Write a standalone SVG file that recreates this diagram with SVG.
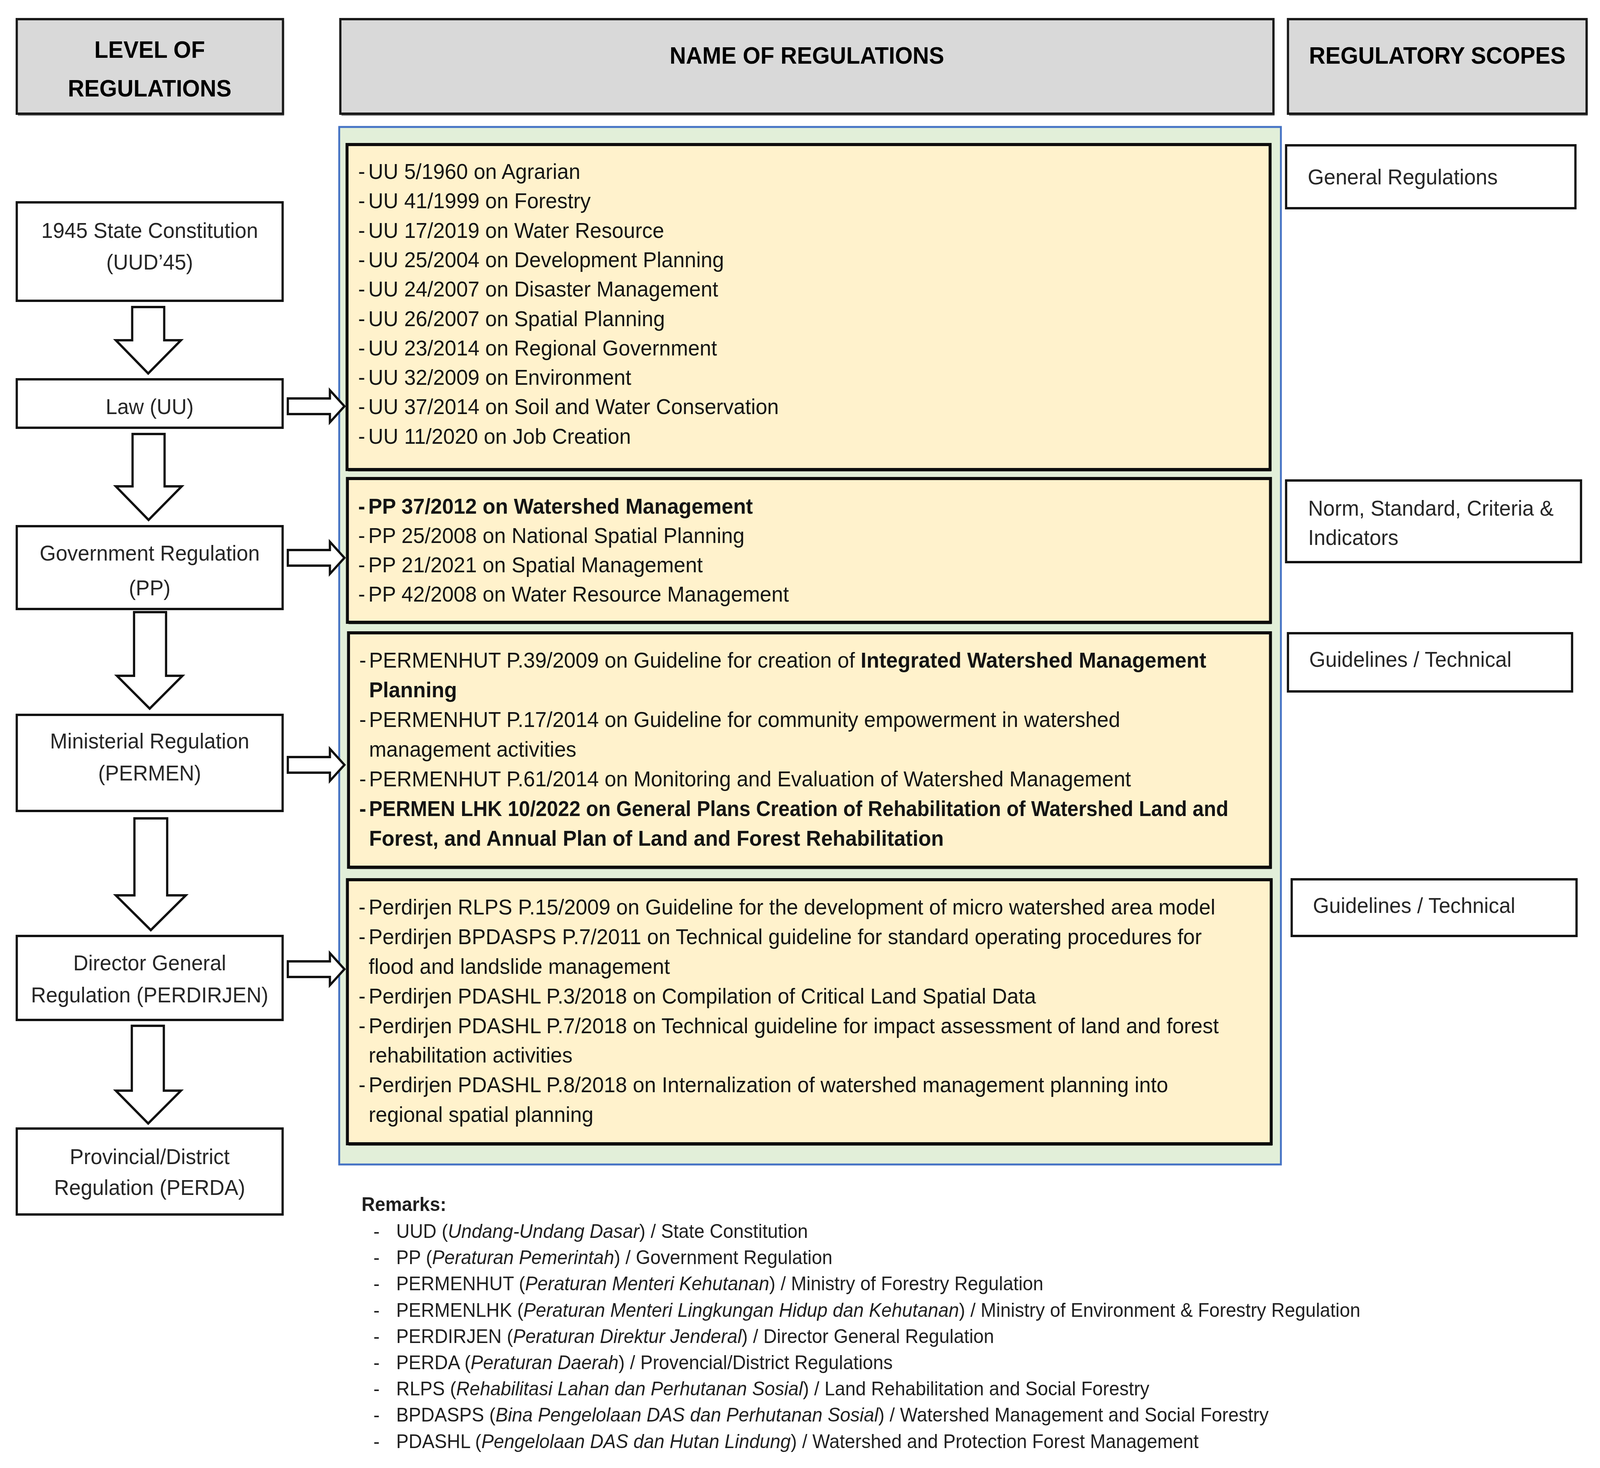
<svg xmlns="http://www.w3.org/2000/svg" width="4297" height="3758" viewBox="0 0 4297 3758" preserveAspectRatio="none">
<style>
  svg { width: 100vw; height: 100vh; }
  text { font-family: "Liberation Sans", Arial, sans-serif; }
  .hdr { font-size: 61px; font-weight: bold; fill: #000; text-anchor: middle; }
  .hbox { fill: #d9d9d9; stroke: #1a1a1a; stroke-width: 6; }
  .shadow { fill: #3a3a3a; opacity: 0.75; }
  .lbox { fill: #ffffff; stroke: #111; stroke-width: 6; }
  .lvl { font-size: 56px; fill: #262626; text-anchor: middle; }
  .sbox { fill: #ffffff; stroke: #111; stroke-width: 6; }
  .scope { font-size: 56px; fill: #262626; }
  .ybox { fill: #fff2cc; stroke: #0d0d0d; stroke-width: 8; }
  .item { font-size: 56px; fill: #141414; }
  .b { font-weight: bold; }
  .arrow { fill: #ffffff; stroke: #111; stroke-width: 6; stroke-linejoin: miter; }
  .rm { font-size: 50px; fill: #1f1f1f; }
  .it { font-style: italic; }
</style>

<!-- Headers -->
<g id="hdr-level">
  <rect class="shadow" x="48" y="54" width="715" height="242"/>
  <rect class="hbox" x="45" y="49" width="715" height="242"/>
  <text class="hdr" x="402" y="148">LEVEL OF</text>
  <text class="hdr" x="402" y="247">REGULATIONS</text>
</g>
<g id="hdr-name">
  <rect class="shadow" x="917" y="54" width="2506" height="242"/>
  <rect class="hbox" x="914" y="49" width="2506" height="242"/>
  <text class="hdr" x="2167" y="163">NAME OF REGULATIONS</text>
</g>
<g id="hdr-scope">
  <rect class="shadow" x="3462" y="54" width="802" height="242"/>
  <rect class="hbox" x="3459" y="49" width="802" height="242"/>
  <text class="hdr" x="3860" y="163">REGULATORY SCOPES</text>
</g>

<!-- Green container -->
<g id="regulations-panel">
  <rect x="911" y="325" width="2529" height="2656" fill="#e2efd9" stroke="#4472c4" stroke-width="5"/>
</g>

<!-- Level boxes -->
<g id="lvl-uud">
  <rect class="lbox" x="45" y="518" width="714" height="252"/>
  <text class="lvl" x="402" y="609">1945 State Constitution</text>
  <text class="lvl" x="402" y="690">(UUD’45)</text>
</g>
<g id="lvl-uu">
  <rect class="lbox" x="45" y="971" width="714" height="124"/>
  <text class="lvl" x="402" y="1060">Law (UU)</text>
</g>
<g id="lvl-pp">
  <rect class="lbox" x="45" y="1347" width="714" height="212"/>
  <text class="lvl" x="402" y="1435">Government Regulation</text>
  <text class="lvl" x="402" y="1524">(PP)</text>
</g>
<g id="lvl-permen">
  <rect class="lbox" x="45" y="1830" width="714" height="246"/>
  <text class="lvl" x="402" y="1916">Ministerial Regulation</text>
  <text class="lvl" x="402" y="1998">(PERMEN)</text>
</g>
<g id="lvl-perdirjen">
  <rect class="lbox" x="45" y="2396" width="714" height="215"/>
  <text class="lvl" x="402" y="2484">Director General</text>
  <text class="lvl" x="402" y="2566">Regulation (PERDIRJEN)</text>
</g>
<g id="lvl-perda">
  <rect class="lbox" x="45" y="2889" width="714" height="220"/>
  <text class="lvl" x="402" y="2980">Provincial/District</text>
  <text class="lvl" x="402" y="3059">Regulation (PERDA)</text>
</g>

<!-- Regulation lists -->
<g id="list-uu">
  <rect class="shadow" x="935" y="375" width="2479" height="832"/>
  <rect class="ybox" x="932" y="370" width="2479" height="832"/>
  <text class="item" y="458"><tspan x="962">-</tspan><tspan x="989">UU 5/1960 on Agrarian</tspan></text>
  <text class="item" y="533"><tspan x="962">-</tspan><tspan x="989">UU 41/1999 on Forestry</tspan></text>
  <text class="item" y="609"><tspan x="962">-</tspan><tspan x="989">UU 17/2019 on Water Resource</tspan></text>
  <text class="item" y="684"><tspan x="962">-</tspan><tspan x="989">UU 25/2004 on Development Planning</tspan></text>
  <text class="item" y="759"><tspan x="962">-</tspan><tspan x="989">UU 24/2007 on Disaster Management</tspan></text>
  <text class="item" y="835"><tspan x="962">-</tspan><tspan x="989">UU 26/2007 on Spatial Planning</tspan></text>
  <text class="item" y="910"><tspan x="962">-</tspan><tspan x="989">UU 23/2014 on Regional Government</tspan></text>
  <text class="item" y="985"><tspan x="962">-</tspan><tspan x="989">UU 32/2009 on Environment</tspan></text>
  <text class="item" y="1060"><tspan x="962">-</tspan><tspan x="989">UU 37/2014 on Soil and Water Conservation</tspan></text>
  <text class="item" y="1136"><tspan x="962">-</tspan><tspan x="989">UU 11/2020 on Job Creation</tspan></text>
</g>
<g id="list-pp">
  <rect class="shadow" x="936" y="1230" width="2479" height="368"/>
  <rect class="ybox" x="933" y="1225" width="2479" height="368"/>
  <text class="item b" y="1315"><tspan x="962">-</tspan><tspan x="989">PP 37/2012 on Watershed Management</tspan></text>
  <text class="item" y="1390"><tspan x="962">-</tspan><tspan x="989">PP 25/2008 on National Spatial Planning</tspan></text>
  <text class="item" y="1465"><tspan x="962">-</tspan><tspan x="989">PP 21/2021 on Spatial Management</tspan></text>
  <text class="item" y="1540"><tspan x="962">-</tspan><tspan x="989">PP 42/2008 on Water Resource Management</tspan></text>
</g>
<g id="list-permen">
  <rect class="shadow" x="939" y="1625" width="2476" height="600"/>
  <rect class="ybox" x="936" y="1620" width="2476" height="600"/>
  <text class="item" y="1709"><tspan x="965">-</tspan><tspan x="991">PERMENHUT P.39/2009 on Guideline for creation of </tspan><tspan class="b">Integrated Watershed Management</tspan></text>
  <text class="item b" x="991" y="1785">Planning</text>
  <text class="item" y="1861"><tspan x="965">-</tspan><tspan x="991">PERMENHUT P.17/2014 on Guideline for community empowerment in watershed</tspan></text>
  <text class="item" x="991" y="1937">management activities</text>
  <text class="item" y="2013"><tspan x="965">-</tspan><tspan x="991">PERMENHUT P.61/2014 on Monitoring and Evaluation of Watershed Management</tspan></text>
  <text class="item b" y="2089"><tspan x="965">-</tspan><tspan x="991" textLength="2308" lengthAdjust="spacingAndGlyphs">PERMEN LHK 10/2022 on General Plans Creation of Rehabilitation of Watershed Land and</tspan></text>
  <text class="item b" x="991" y="2165">Forest, and Annual Plan of Land and Forest Rehabilitation</text>
</g>
<g id="list-perdirjen">
  <rect class="shadow" x="936" y="2257" width="2481" height="676"/>
  <rect class="ybox" x="933" y="2252" width="2481" height="676"/>
  <text class="item" y="2341"><tspan x="963">-</tspan><tspan x="990">Perdirjen RLPS P.15/2009 on Guideline for the development of micro watershed area model</tspan></text>
  <text class="item" y="2417"><tspan x="963">-</tspan><tspan x="990">Perdirjen BPDASPS P.7/2011 on Technical guideline for standard operating procedures for</tspan></text>
  <text class="item" x="990" y="2493">flood and landslide management</text>
  <text class="item" y="2569"><tspan x="963">-</tspan><tspan x="990">Perdirjen PDASHL P.3/2018 on Compilation of Critical Land Spatial Data</tspan></text>
  <text class="item" y="2645"><tspan x="963">-</tspan><tspan x="990">Perdirjen PDASHL P.7/2018 on Technical guideline for impact assessment of land and forest</tspan></text>
  <text class="item" x="990" y="2720">rehabilitation activities</text>
  <text class="item" y="2796"><tspan x="963">-</tspan><tspan x="990">Perdirjen PDASHL P.8/2018 on Internalization of watershed management planning into</tspan></text>
  <text class="item" x="990" y="2872">regional spatial planning</text>
</g>

<!-- Scope boxes -->
<g id="scope-general">
  <rect class="sbox" x="3454" y="372" width="777" height="161"/>
  <text class="scope" x="3512" y="472">General Regulations</text>
</g>
<g id="scope-norm">
  <rect class="sbox" x="3454" y="1230" width="792" height="209"/>
  <text class="scope" x="3513" y="1320">Norm, Standard, Criteria &amp;</text>
  <text class="scope" x="3513" y="1395">Indicators</text>
</g>
<g id="scope-guide1">
  <rect class="sbox" x="3459" y="1621" width="763" height="149"/>
  <text class="scope" x="3516" y="1707">Guidelines / Technical</text>
</g>
<g id="scope-guide2">
  <rect class="sbox" x="3469" y="2251" width="765" height="145"/>
  <text class="scope" x="3526" y="2337">Guidelines / Technical</text>
</g>

<!-- Connectors (block arrows) -->
<g id="connectors">
  <polygon class="arrow" points="355,786 441,786 441,871 486,871 398,956 311,871 355,871"/>
  <polygon class="arrow" points="356,1111 442,1111 442,1245 488,1245 399,1331 311,1245 356,1245"/>
  <polygon class="arrow" points="360,1567 446,1567 446,1730 490,1730 402,1814 314,1730 360,1730"/>
  <polygon class="arrow" points="361,2095 449,2095 449,2292 499,2292 405,2381 311,2292 361,2292"/>
  <polygon class="arrow" points="354,2626 440,2626 440,2792 486,2792 398,2876 311,2792 354,2792"/>

  <polygon class="arrow" points="773,1020 886,1020 886,999 925,1040 886,1081 886,1060 773,1060"/>
  <polygon class="arrow" points="773,1408 886,1408 886,1387 925,1428 886,1469 886,1448 773,1448"/>
  <polygon class="arrow" points="773,1938 886,1938 886,1917 925,1958 886,1999 886,1978 773,1978"/>
  <polygon class="arrow" points="773,2461 886,2461 886,2440 925,2481 886,2522 886,2501 773,2501"/>
</g>

<!-- Remarks -->
<g id="remarks">
  <text class="rm b" x="971" y="3100">Remarks:</text>
  <text class="rm" y="3169"><tspan x="1003">-</tspan><tspan x="1064">UUD (</tspan><tspan class="it">Undang-Undang Dasar</tspan><tspan>) / State Constitution</tspan></text>
  <text class="rm" y="3236"><tspan x="1003">-</tspan><tspan x="1064">PP (</tspan><tspan class="it">Peraturan Pemerintah</tspan><tspan>) / Government Regulation</tspan></text>
  <text class="rm" y="3303"><tspan x="1003">-</tspan><tspan x="1064">PERMENHUT (</tspan><tspan class="it">Peraturan Menteri Kehutanan</tspan><tspan>) / Ministry of Forestry Regulation</tspan></text>
  <text class="rm" y="3371"><tspan x="1003">-</tspan><tspan x="1064">PERMENLHK (</tspan><tspan class="it">Peraturan Menteri Lingkungan Hidup dan Kehutanan</tspan><tspan>) / Ministry of Environment &amp; Forestry Regulation</tspan></text>
  <text class="rm" y="3438"><tspan x="1003">-</tspan><tspan x="1064">PERDIRJEN (</tspan><tspan class="it">Peraturan Direktur Jenderal</tspan><tspan>) / Director General Regulation</tspan></text>
  <text class="rm" y="3505"><tspan x="1003">-</tspan><tspan x="1064">PERDA (</tspan><tspan class="it">Peraturan Daerah</tspan><tspan>) / Provencial/District Regulations</tspan></text>
  <text class="rm" y="3572"><tspan x="1003">-</tspan><tspan x="1064">RLPS (</tspan><tspan class="it">Rehabilitasi Lahan dan Perhutanan Sosial</tspan><tspan>) / Land Rehabilitation and Social Forestry</tspan></text>
  <text class="rm" y="3639"><tspan x="1003">-</tspan><tspan x="1064">BPDASPS (</tspan><tspan class="it">Bina Pengelolaan DAS dan Perhutanan Sosial</tspan><tspan>) / Watershed Management and Social Forestry</tspan></text>
  <text class="rm" y="3707"><tspan x="1003">-</tspan><tspan x="1064">PDASHL (</tspan><tspan class="it">Pengelolaan DAS dan Hutan Lindung</tspan><tspan>) / Watershed and Protection Forest Management</tspan></text>
</g>
</svg>
